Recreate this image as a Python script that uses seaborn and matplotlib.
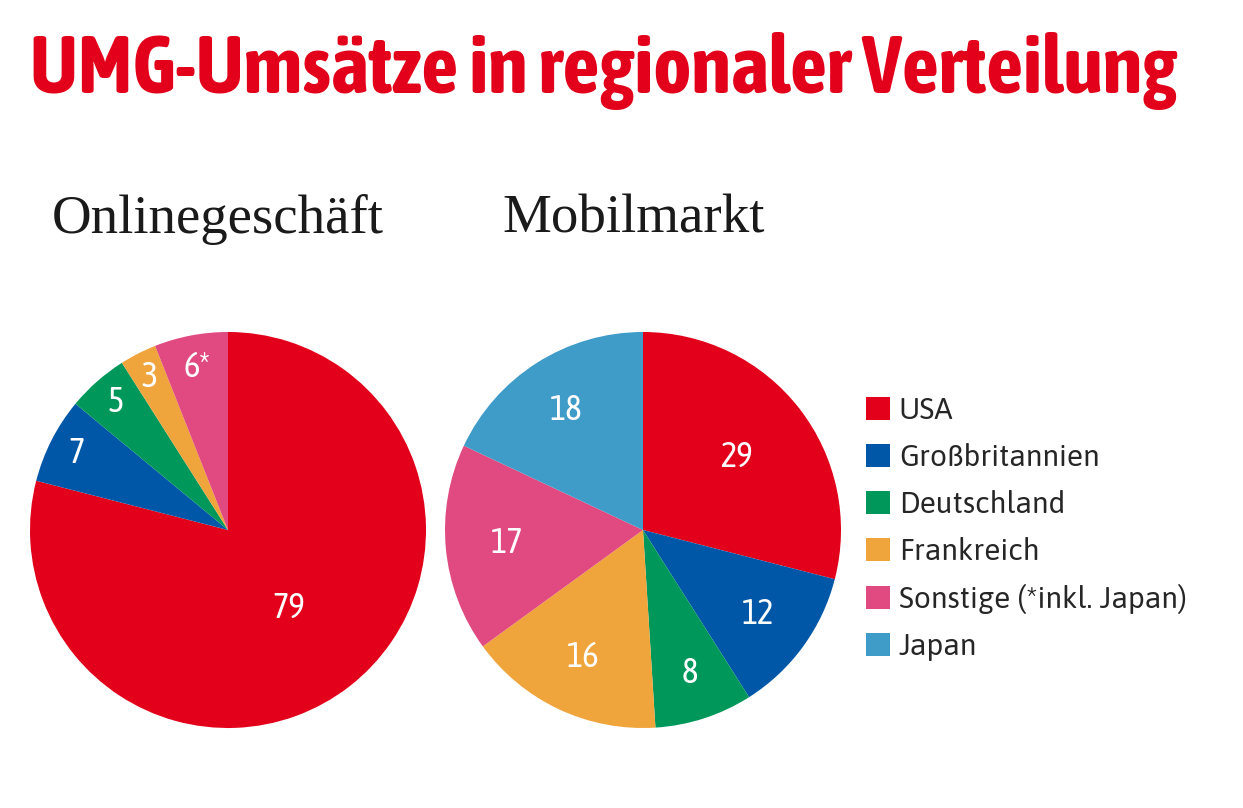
import numpy as np
import matplotlib
matplotlib.use("Agg")
import matplotlib.pyplot as plt
from matplotlib.patches import Patch
import seaborn as sns

# regions and their colours
regions = ["USA", "Großbritannien", "Deutschland", "Frankreich",
           "Sonstige (*inkl. Japan)", "Japan"]
region_colors = ["#e2001a", "#0057a8", "#00975a", "#f0a43c", "#e04a80", "#3f9bc8"]

# shares in percent
online_values = [79, 7, 5, 3, 6]
online_labels = ["79", "7", "5", "3", "6*"]
mobile_values = [29, 12, 8, 16, 17, 18]
mobile_labels = ["29", "12", "8", "16", "17", "18"]

sns.set_theme(style="white")
cond = ["Asap Condensed", "Roboto", "DejaVu Sans"]
plain = ["Asap", "Open Sans", "DejaVu Sans"]
plt.rcParams["font.family"] = cond

W, H = 1243, 808
fig = plt.figure(figsize=(W / 100, H / 100), dpi=100)
fig.patch.set_facecolor("white")


def draw_pie(rect, values, labels, radii):
    ax = fig.add_axes(rect)
    wedges, _ = ax.pie(values, colors=region_colors[:len(values)], startangle=90,
                       counterclock=False, radius=1.0,
                       wedgeprops=dict(linewidth=0))
    for w, lab, r in zip(wedges, labels, radii):
        mid = np.deg2rad((w.theta1 + w.theta2) / 2)
        ax.text(r * np.cos(mid), r * np.sin(mid), lab, color="white",
                fontsize=25, ha="center", va="center", family=cond)
    ax.set_xlim(-1, 1)
    ax.set_ylim(-1, 1)
    ax.set_aspect("equal")
    ax.axis("off")
    return ax


draw_pie([30 / W, 80 / H, 396 / W, 396 / H], online_values, online_labels,
         [0.5, 0.86, 0.86, 0.87, 0.84])
draw_pie([445 / W, 80 / H, 396 / W, 396 / H], mobile_values, mobile_labels,
         [0.6, 0.72, 0.76, 0.71, 0.69, 0.72])

fig.text(30 / W, 1 - 93 / H, "UMG-Umsätze in regionaler Verteilung",
         color="#e2001a", fontsize=58.5, fontweight="bold", ha="left",
         va="baseline", family=cond)
serif = ["Liberation Serif", "DejaVu Serif"]
fig.text(52 / W, 1 - 233 / H, "Onlinegeschäft", color="#1a1a1a",
         fontsize=39.5, family=serif, va="baseline")
fig.text(502 / W, 1 - 233 / H, "Mobilmarkt", color="#1a1a1a",
         fontsize=39.5, family=serif, va="baseline")

handles = [Patch(facecolor=c, edgecolor="none") for c in region_colors]
fig.legend(handles, regions, loc="upper left",
           bbox_to_anchor=(866 / W, 1 - 396 / H), frameon=False,
           prop=dict(family=plain, size=21.5, weight="medium"),
           handlelength=0.8, handleheight=0.8,
           handletextpad=0.3, labelspacing=0.6, labelcolor="#262626",
           borderpad=0, borderaxespad=0)

fig.savefig("out.png", dpi=100, facecolor="white")
